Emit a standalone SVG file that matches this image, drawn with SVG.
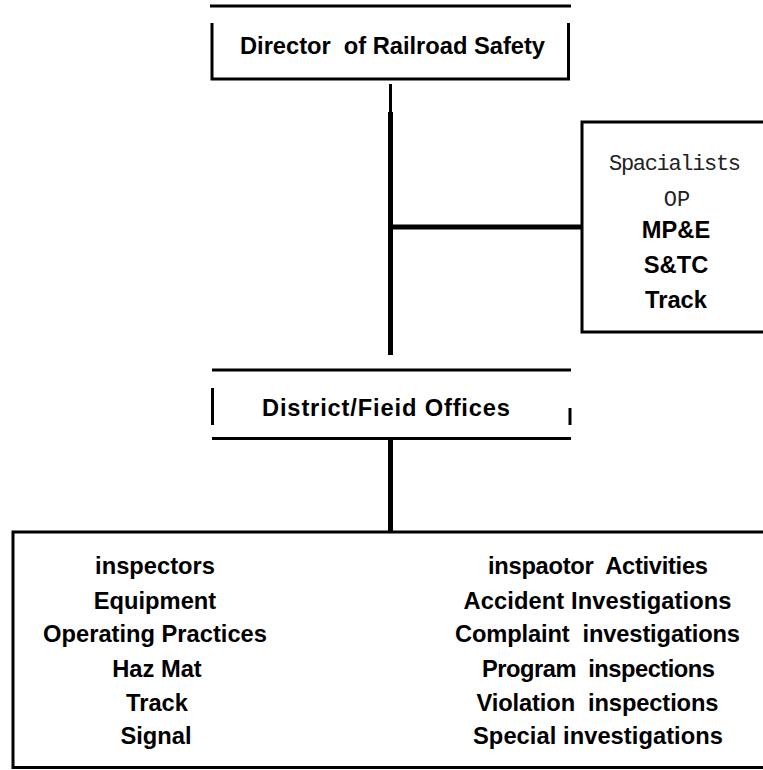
<svg xmlns="http://www.w3.org/2000/svg" width="763" height="770" viewBox="0 0 763 770">
<style>
.ln{stroke:#000;stroke-width:3;fill:none}
.thk{stroke:#000;stroke-width:5;fill:none}
.b{font-family:"Liberation Sans",Arial,sans-serif;font-weight:bold;font-size:23.7px;fill:#000;text-anchor:middle;white-space:pre}
.m{font-family:"Liberation Mono","Courier New",monospace;font-size:22px;fill:#222;text-anchor:middle}
</style>
<rect width="763" height="770" fill="#fff"/>
<g id="connectors">
<line class="ln" x1="390.5" y1="84" x2="390.5" y2="113"/>
<line class="thk" x1="390.5" y1="112" x2="390.5" y2="355"/>
<line class="thk" x1="393" y1="227" x2="582" y2="227"/>
<line class="thk" x1="390.5" y1="440" x2="390.5" y2="531"/>
</g>
<g id="director">
<line class="ln" x1="210" y1="6" x2="571" y2="6"/>
<polyline class="ln" points="212,23 212,79 568.5,79 568.5,23"/>
<text class="b" x="392.5" y="54" textLength="305" xml:space="preserve">Director  of Railroad Safety</text>
</g>
<g id="specialists">
<polyline class="ln" points="763,122 582,122 582,332 763,332"/>
<text class="m" x="675" y="170" textLength="132">Spacialists</text>
<text class="m" x="677" y="206">OP</text>
<text class="b" x="676" y="238">MP&amp;E</text>
<text class="b" x="676" y="273">S&amp;TC</text>
<text class="b" x="676" y="308">Track</text>
</g>
<g id="district">
<line class="ln" x1="212" y1="370" x2="571" y2="370"/>
<line class="ln" x1="212" y1="438.5" x2="571" y2="438.5"/>
<line class="ln" x1="212.5" y1="388" x2="212.5" y2="425"/>
<line class="ln" x1="570" y1="408" x2="570" y2="425"/>
<text class="b" x="386" y="416" textLength="248">District/Fieid Offices</text>
</g>
<g id="field">
<polyline class="ln" points="763,532 13,532 13,767.5 763,767.5"/>
<text class="b" x="155" y="574">inspectors</text>
<text class="b" x="155" y="608.5">Equipment</text>
<text class="b" x="155" y="642">Operating Practices</text>
<text class="b" x="157" y="677">Haz Mat</text>
<text class="b" x="157" y="711">Track</text>
<text class="b" x="156" y="744">Signal</text>
<text class="b" x="598" y="574" textLength="220" xml:space="preserve">inspaotor  Activities</text>
<text class="b" x="597.5" y="608.5" textLength="268">Accident Investigations</text>
<text class="b" x="597.5" y="642" textLength="285" xml:space="preserve">Complaint  investigations</text>
<text class="b" x="598.5" y="677" textLength="233" xml:space="preserve">Program  inspections</text>
<text class="b" x="597.5" y="711" textLength="242" xml:space="preserve">Violation  inspections</text>
<text class="b" x="598" y="744" textLength="250">Special investigations</text>
</g>
</svg>
